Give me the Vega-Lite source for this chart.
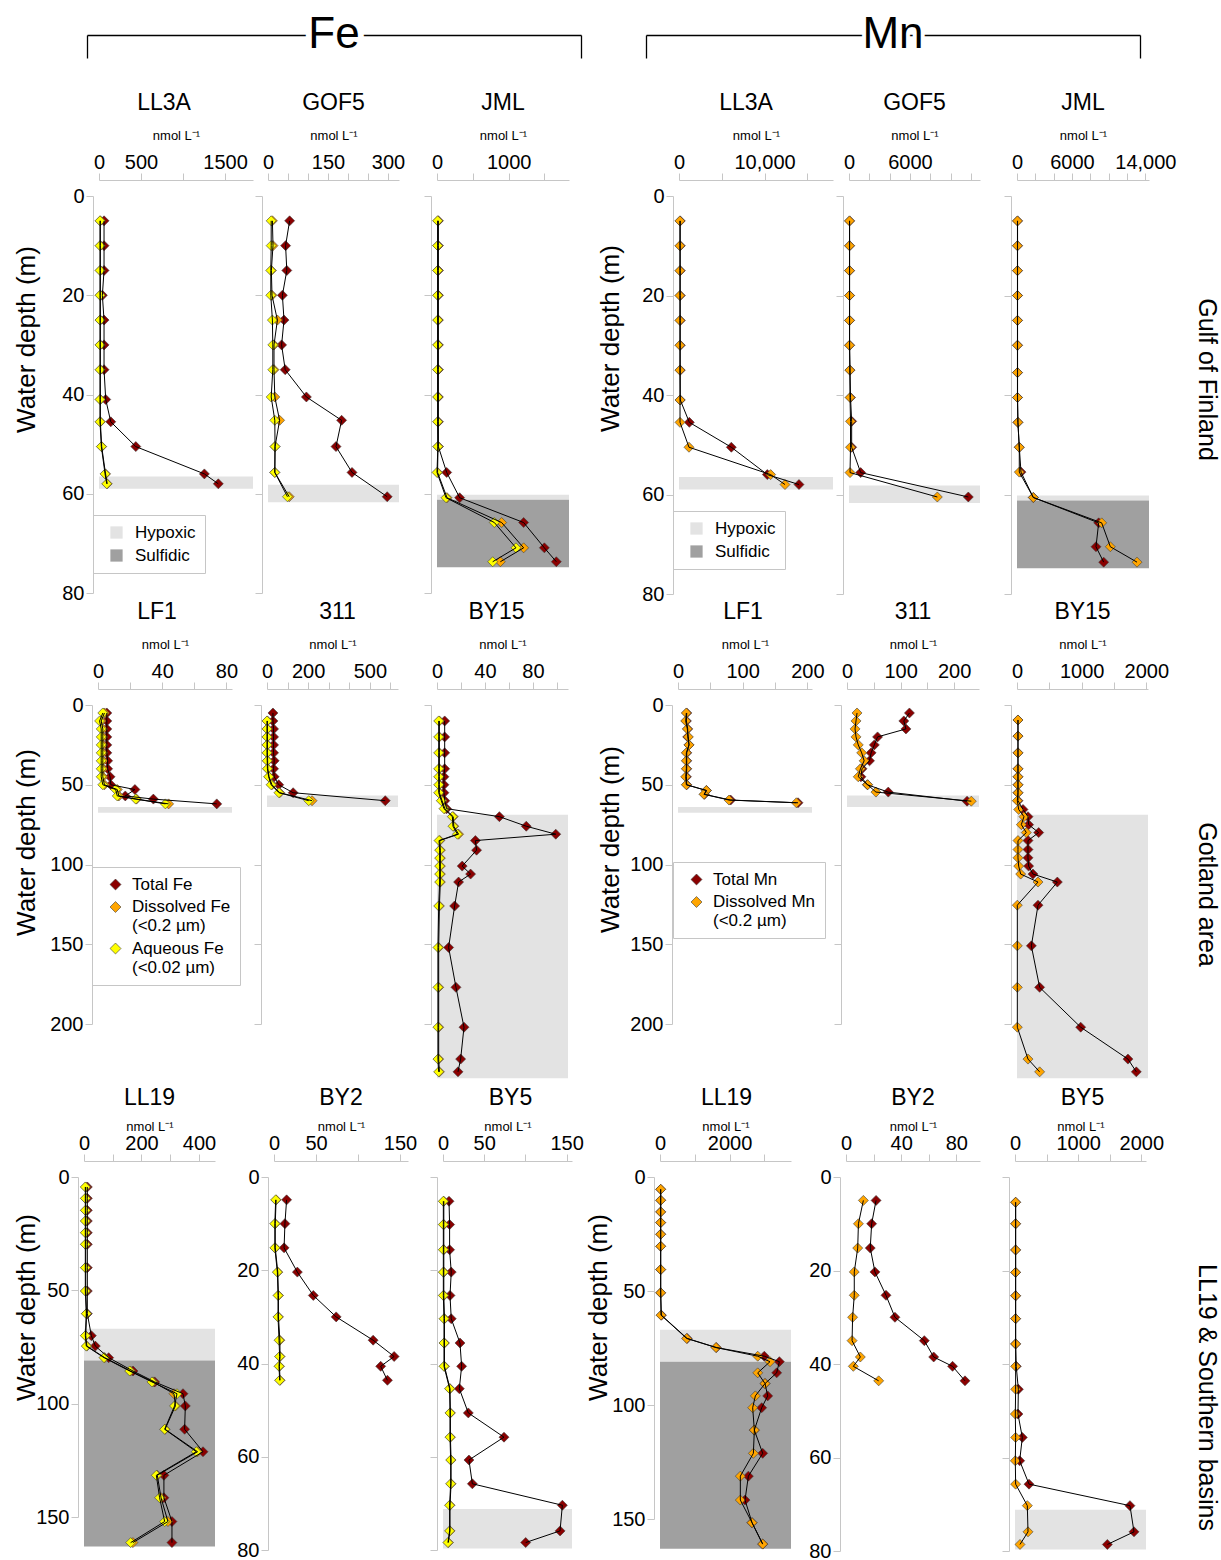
{
"$schema":"https://vega.github.io/schema/vega-lite/v6.json",
"padding":{"left":12,"top":12,"right":5,"bottom":5},
"config":{
 "font":"Liberation Sans",
 "view":{"stroke":null},
 "title":{"fontSize":23,"fontWeight":"normal","frame":"group","anchor":"middle","offset":14,"color":"black","font":"Liberation Sans"},
 "axis":{"grid":false,"domainColor":"#c6c6c6","tickColor":"#c6c6c6","tickSize":7,"labelFontSize":20,"labelColor":"black","titleColor":"black","titleFontWeight":"normal","labelFlush":false,"labelOverlap":false,"labelFont":"Liberation Sans","titleFont":"Liberation Sans"},
 "axisX":{"offset":16,"labelPadding":1,"titleFontSize":13,"titlePadding":10},
 "axisY":{"offset":6,"labelPadding":2,"titleFontSize":26},
 "legend":{"labelFontSize":17,"labelColor":"black","padding":9,"strokeColor":"#c6c6c6","labelFont":"Liberation Sans"}
},
"datasets":{
"zones":[
{"st":"LL3A","zone":"Hypoxic","top":56.5,"bottom":59},
{"st":"GOF5","zone":"Hypoxic","top":58.2,"bottom":61.7},
{"st":"JML","zone":"Hypoxic","top":60.2,"bottom":61.2},
{"st":"JML","zone":"Sulfidic","top":61.2,"bottom":74.8},
{"st":"LF1","zone":"Hypoxic","top":64,"bottom":67.5},
{"st":"311","zone":"Hypoxic","top":56.8,"bottom":64},
{"st":"BY15","zone":"Hypoxic","top":68.8,"bottom":234},
{"st":"LL19","zone":"Hypoxic","top":67,"bottom":81},
{"st":"LL19","zone":"Sulfidic","top":81,"bottom":163},
{"st":"BY5","zone":"Hypoxic","top":71.2,"bottom":79.7}
],
"obs":[
{"p":"FeLL3A","s":"T","d":5,"v":60},{"p":"FeLL3A","s":"T","d":10,"v":60},{"p":"FeLL3A","s":"T","d":15,"v":60},{"p":"FeLL3A","s":"T","d":20,"v":40},{"p":"FeLL3A","s":"T","d":25,"v":60},{"p":"FeLL3A","s":"T","d":30,"v":60},{"p":"FeLL3A","s":"T","d":35,"v":60},{"p":"FeLL3A","s":"T","d":41,"v":80},{"p":"FeLL3A","s":"T","d":45.5,"v":140},{"p":"FeLL3A","s":"T","d":50.5,"v":438},{"p":"FeLL3A","s":"T","d":56,"v":1254},{"p":"FeLL3A","s":"T","d":58,"v":1420},
{"p":"FeLL3A","s":"D","d":5,"v":16},{"p":"FeLL3A","s":"D","d":10,"v":16},{"p":"FeLL3A","s":"D","d":15,"v":16},{"p":"FeLL3A","s":"D","d":20,"v":16},{"p":"FeLL3A","s":"D","d":25,"v":16},{"p":"FeLL3A","s":"D","d":30,"v":16},{"p":"FeLL3A","s":"D","d":35,"v":16},{"p":"FeLL3A","s":"D","d":41,"v":16},{"p":"FeLL3A","s":"D","d":45.5,"v":16},{"p":"FeLL3A","s":"D","d":50.5,"v":32},{"p":"FeLL3A","s":"D","d":56,"v":78},{"p":"FeLL3A","s":"D","d":58,"v":98},
{"p":"FeLL3A","s":"A","d":5,"v":12},{"p":"FeLL3A","s":"A","d":10,"v":12},{"p":"FeLL3A","s":"A","d":15,"v":12},{"p":"FeLL3A","s":"A","d":20,"v":12},{"p":"FeLL3A","s":"A","d":25,"v":12},{"p":"FeLL3A","s":"A","d":30,"v":12},{"p":"FeLL3A","s":"A","d":35,"v":12},{"p":"FeLL3A","s":"A","d":41,"v":12},{"p":"FeLL3A","s":"A","d":45.5,"v":12},{"p":"FeLL3A","s":"A","d":50.5,"v":28},{"p":"FeLL3A","s":"A","d":56,"v":72},{"p":"FeLL3A","s":"A","d":58,"v":92},
{"p":"FeGOF5","s":"T","d":5,"v":54},{"p":"FeGOF5","s":"T","d":10,"v":44},{"p":"FeGOF5","s":"T","d":15,"v":47},{"p":"FeGOF5","s":"T","d":20,"v":36},{"p":"FeGOF5","s":"T","d":25,"v":40},{"p":"FeGOF5","s":"T","d":30,"v":34},{"p":"FeGOF5","s":"T","d":35,"v":43},{"p":"FeGOF5","s":"T","d":40.5,"v":96},{"p":"FeGOF5","s":"T","d":45.2,"v":184},{"p":"FeGOF5","s":"T","d":50.5,"v":170},{"p":"FeGOF5","s":"T","d":55.7,"v":210},{"p":"FeGOF5","s":"T","d":60.6,"v":298},
{"p":"FeGOF5","s":"D","d":5,"v":11},{"p":"FeGOF5","s":"D","d":10,"v":12.5},{"p":"FeGOF5","s":"D","d":15,"v":8.4},{"p":"FeGOF5","s":"D","d":20,"v":10},{"p":"FeGOF5","s":"D","d":25,"v":23.5},{"p":"FeGOF5","s":"D","d":30,"v":15},{"p":"FeGOF5","s":"D","d":35,"v":15},{"p":"FeGOF5","s":"D","d":40.5,"v":17},{"p":"FeGOF5","s":"D","d":45.2,"v":29},{"p":"FeGOF5","s":"D","d":50.5,"v":17.6},{"p":"FeGOF5","s":"D","d":55.7,"v":17},{"p":"FeGOF5","s":"D","d":60.6,"v":53},
{"p":"FeGOF5","s":"A","d":5,"v":8},{"p":"FeGOF5","s":"A","d":10,"v":8},{"p":"FeGOF5","s":"A","d":15,"v":7},{"p":"FeGOF5","s":"A","d":20,"v":7},{"p":"FeGOF5","s":"A","d":25,"v":11},{"p":"FeGOF5","s":"A","d":30,"v":12},{"p":"FeGOF5","s":"A","d":35,"v":12},{"p":"FeGOF5","s":"A","d":40.5,"v":8},{"p":"FeGOF5","s":"A","d":45.2,"v":17},{"p":"FeGOF5","s":"A","d":50.5,"v":17.6},{"p":"FeGOF5","s":"A","d":55.7,"v":17},{"p":"FeGOF5","s":"A","d":60.6,"v":48.6},
{"p":"FeJML","s":"T","d":5,"v":19},{"p":"FeJML","s":"T","d":10,"v":19},{"p":"FeJML","s":"T","d":15,"v":19},{"p":"FeJML","s":"T","d":20,"v":19},{"p":"FeJML","s":"T","d":25,"v":19},{"p":"FeJML","s":"T","d":30,"v":19},{"p":"FeJML","s":"T","d":35,"v":19},{"p":"FeJML","s":"T","d":40.5,"v":19},{"p":"FeJML","s":"T","d":45.5,"v":19},{"p":"FeJML","s":"T","d":50.5,"v":19},{"p":"FeJML","s":"T","d":55.7,"v":135},{"p":"FeJML","s":"T","d":60.8,"v":316},{"p":"FeJML","s":"T","d":65.8,"v":1209},{"p":"FeJML","s":"T","d":70.9,"v":1498},{"p":"FeJML","s":"T","d":73.7,"v":1665},
{"p":"FeJML","s":"D","d":5,"v":12},{"p":"FeJML","s":"D","d":10,"v":12},{"p":"FeJML","s":"D","d":15,"v":12},{"p":"FeJML","s":"D","d":20,"v":12},{"p":"FeJML","s":"D","d":25,"v":12},{"p":"FeJML","s":"D","d":30,"v":12},{"p":"FeJML","s":"D","d":35,"v":12},{"p":"FeJML","s":"D","d":40.5,"v":12},{"p":"FeJML","s":"D","d":45.5,"v":12},{"p":"FeJML","s":"D","d":50.5,"v":14},{"p":"FeJML","s":"D","d":55.7,"v":8},{"p":"FeJML","s":"D","d":60.8,"v":140},{"p":"FeJML","s":"D","d":65.8,"v":902},{"p":"FeJML","s":"D","d":70.9,"v":1209},{"p":"FeJML","s":"D","d":73.7,"v":884},
{"p":"FeJML","s":"A","d":5,"v":9},{"p":"FeJML","s":"A","d":10,"v":9},{"p":"FeJML","s":"A","d":15,"v":9},{"p":"FeJML","s":"A","d":20,"v":9},{"p":"FeJML","s":"A","d":25,"v":9},{"p":"FeJML","s":"A","d":30,"v":9},{"p":"FeJML","s":"A","d":35,"v":9},{"p":"FeJML","s":"A","d":40.5,"v":9},{"p":"FeJML","s":"A","d":45.5,"v":9},{"p":"FeJML","s":"A","d":50.5,"v":12},{"p":"FeJML","s":"A","d":55.7,"v":0},{"p":"FeJML","s":"A","d":60.8,"v":126},{"p":"FeJML","s":"A","d":65.8,"v":800},{"p":"FeJML","s":"A","d":70.9,"v":1102},{"p":"FeJML","s":"A","d":73.7,"v":777},
{"p":"MnLL3A","s":"T","d":5,"v":150},{"p":"MnLL3A","s":"T","d":10,"v":150},{"p":"MnLL3A","s":"T","d":15,"v":150},{"p":"MnLL3A","s":"T","d":20,"v":150},{"p":"MnLL3A","s":"T","d":25,"v":150},{"p":"MnLL3A","s":"T","d":30,"v":150},{"p":"MnLL3A","s":"T","d":35,"v":150},{"p":"MnLL3A","s":"T","d":41,"v":150},{"p":"MnLL3A","s":"T","d":45.5,"v":1208},{"p":"MnLL3A","s":"T","d":50.5,"v":6116},{"p":"MnLL3A","s":"T","d":56,"v":10323},{"p":"MnLL3A","s":"T","d":58,"v":14024},
{"p":"MnLL3A","s":"D","d":5,"v":100},{"p":"MnLL3A","s":"D","d":10,"v":100},{"p":"MnLL3A","s":"D","d":15,"v":100},{"p":"MnLL3A","s":"D","d":20,"v":100},{"p":"MnLL3A","s":"D","d":25,"v":100},{"p":"MnLL3A","s":"D","d":30,"v":100},{"p":"MnLL3A","s":"D","d":35,"v":100},{"p":"MnLL3A","s":"D","d":41,"v":120},{"p":"MnLL3A","s":"D","d":45.5,"v":120},{"p":"MnLL3A","s":"D","d":50.5,"v":1166},{"p":"MnLL3A","s":"D","d":56,"v":10713},{"p":"MnLL3A","s":"D","d":58,"v":12388},
{"p":"MnGOF5","s":"T","d":5,"v":60},{"p":"MnGOF5","s":"T","d":10,"v":60},{"p":"MnGOF5","s":"T","d":15,"v":60},{"p":"MnGOF5","s":"T","d":20,"v":60},{"p":"MnGOF5","s":"T","d":25,"v":60},{"p":"MnGOF5","s":"T","d":30,"v":60},{"p":"MnGOF5","s":"T","d":35,"v":100},{"p":"MnGOF5","s":"T","d":40.5,"v":150},{"p":"MnGOF5","s":"T","d":45.3,"v":262},{"p":"MnGOF5","s":"T","d":50.5,"v":262},{"p":"MnGOF5","s":"T","d":55.6,"v":1148},{"p":"MnGOF5","s":"T","d":60.5,"v":11738},
{"p":"MnGOF5","s":"D","d":5,"v":50},{"p":"MnGOF5","s":"D","d":10,"v":50},{"p":"MnGOF5","s":"D","d":15,"v":50},{"p":"MnGOF5","s":"D","d":20,"v":50},{"p":"MnGOF5","s":"D","d":25,"v":50},{"p":"MnGOF5","s":"D","d":30,"v":50},{"p":"MnGOF5","s":"D","d":35,"v":80},{"p":"MnGOF5","s":"D","d":40.5,"v":100},{"p":"MnGOF5","s":"D","d":45.3,"v":150},{"p":"MnGOF5","s":"D","d":50.5,"v":150},{"p":"MnGOF5","s":"D","d":55.6,"v":100},{"p":"MnGOF5","s":"D","d":60.5,"v":8689},
{"p":"MnJML","s":"T","d":5,"v":60},{"p":"MnJML","s":"T","d":10,"v":60},{"p":"MnJML","s":"T","d":15,"v":60},{"p":"MnJML","s":"T","d":20,"v":60},{"p":"MnJML","s":"T","d":25,"v":60},{"p":"MnJML","s":"T","d":30,"v":60},{"p":"MnJML","s":"T","d":35.5,"v":60},{"p":"MnJML","s":"T","d":40.5,"v":60},{"p":"MnJML","s":"T","d":45.5,"v":100},{"p":"MnJML","s":"T","d":50.5,"v":250},{"p":"MnJML","s":"T","d":55.5,"v":436},{"p":"MnJML","s":"T","d":60.6,"v":1780},{"p":"MnJML","s":"T","d":65.7,"v":8909},{"p":"MnJML","s":"T","d":70.5,"v":8618},{"p":"MnJML","s":"T","d":73.6,"v":9455},
{"p":"MnJML","s":"D","d":5,"v":50},{"p":"MnJML","s":"D","d":10,"v":50},{"p":"MnJML","s":"D","d":15,"v":50},{"p":"MnJML","s":"D","d":20,"v":50},{"p":"MnJML","s":"D","d":25,"v":50},{"p":"MnJML","s":"D","d":30,"v":50},{"p":"MnJML","s":"D","d":35.5,"v":50},{"p":"MnJML","s":"D","d":40.5,"v":50},{"p":"MnJML","s":"D","d":45.5,"v":100},{"p":"MnJML","s":"D","d":50.5,"v":250},{"p":"MnJML","s":"D","d":55.5,"v":250},{"p":"MnJML","s":"D","d":60.6,"v":1780},{"p":"MnJML","s":"D","d":65.7,"v":9236},{"p":"MnJML","s":"D","d":70.5,"v":10182},{"p":"MnJML","s":"D","d":73.6,"v":13091},
{"p":"FeLF1","s":"T","d":5,"v":5.5},{"p":"FeLF1","s":"T","d":10,"v":5.5},{"p":"FeLF1","s":"T","d":15,"v":5.5},{"p":"FeLF1","s":"T","d":20,"v":5.5},{"p":"FeLF1","s":"T","d":25,"v":5.5},{"p":"FeLF1","s":"T","d":30,"v":5.5},{"p":"FeLF1","s":"T","d":35,"v":6},{"p":"FeLF1","s":"T","d":40,"v":6},{"p":"FeLF1","s":"T","d":45,"v":7.5},{"p":"FeLF1","s":"T","d":50,"v":8},{"p":"FeLF1","s":"T","d":53,"v":23},{"p":"FeLF1","s":"T","d":57,"v":17},{"p":"FeLF1","s":"T","d":59,"v":34.5},{"p":"FeLF1","s":"T","d":62,"v":74},
{"p":"FeLF1","s":"D","d":5,"v":4},{"p":"FeLF1","s":"D","d":10,"v":2},{"p":"FeLF1","s":"D","d":15,"v":3},{"p":"FeLF1","s":"D","d":20,"v":3},{"p":"FeLF1","s":"D","d":25,"v":3},{"p":"FeLF1","s":"D","d":30,"v":3},{"p":"FeLF1","s":"D","d":35,"v":3},{"p":"FeLF1","s":"D","d":40,"v":3},{"p":"FeLF1","s":"D","d":45,"v":3},{"p":"FeLF1","s":"D","d":50,"v":4},{"p":"FeLF1","s":"D","d":53,"v":12},{"p":"FeLF1","s":"D","d":57,"v":13},{"p":"FeLF1","s":"D","d":59,"v":24},{"p":"FeLF1","s":"D","d":62,"v":44},
{"p":"FeLF1","s":"A","d":5,"v":3},{"p":"FeLF1","s":"A","d":10,"v":1},{"p":"FeLF1","s":"A","d":15,"v":2},{"p":"FeLF1","s":"A","d":20,"v":2},{"p":"FeLF1","s":"A","d":25,"v":2},{"p":"FeLF1","s":"A","d":30,"v":2},{"p":"FeLF1","s":"A","d":35,"v":2},{"p":"FeLF1","s":"A","d":40,"v":2},{"p":"FeLF1","s":"A","d":45,"v":2},{"p":"FeLF1","s":"A","d":50,"v":3},{"p":"FeLF1","s":"A","d":53,"v":11},{"p":"FeLF1","s":"A","d":57,"v":12},{"p":"FeLF1","s":"A","d":59,"v":23.5},{"p":"FeLF1","s":"A","d":62,"v":42},
{"p":"Fe311","s":"T","d":5,"v":29},{"p":"Fe311","s":"T","d":10,"v":29},{"p":"Fe311","s":"T","d":15,"v":32},{"p":"Fe311","s":"T","d":20,"v":32},{"p":"Fe311","s":"T","d":25,"v":32},{"p":"Fe311","s":"T","d":30,"v":32},{"p":"Fe311","s":"T","d":35,"v":35},{"p":"Fe311","s":"T","d":40,"v":32},{"p":"Fe311","s":"T","d":45,"v":35},{"p":"Fe311","s":"T","d":50,"v":57},{"p":"Fe311","s":"T","d":55,"v":127},{"p":"Fe311","s":"T","d":60,"v":575},
{"p":"Fe311","s":"D","d":10,"v":2},{"p":"Fe311","s":"D","d":15,"v":2},{"p":"Fe311","s":"D","d":20,"v":2},{"p":"Fe311","s":"D","d":25,"v":2},{"p":"Fe311","s":"D","d":30,"v":2},{"p":"Fe311","s":"D","d":35,"v":3},{"p":"Fe311","s":"D","d":40,"v":4},{"p":"Fe311","s":"D","d":45,"v":10},{"p":"Fe311","s":"D","d":50,"v":24},{"p":"Fe311","s":"D","d":55,"v":62},{"p":"Fe311","s":"D","d":60,"v":219},
{"p":"Fe311","s":"A","d":10,"v":0},{"p":"Fe311","s":"A","d":15,"v":0},{"p":"Fe311","s":"A","d":20,"v":0},{"p":"Fe311","s":"A","d":25,"v":0},{"p":"Fe311","s":"A","d":30,"v":0},{"p":"Fe311","s":"A","d":35,"v":1},{"p":"Fe311","s":"A","d":40,"v":2},{"p":"Fe311","s":"A","d":45,"v":8},{"p":"Fe311","s":"A","d":50,"v":20},{"p":"Fe311","s":"A","d":55,"v":58},{"p":"Fe311","s":"A","d":60,"v":203},
{"p":"FeBY15","s":"T","d":10,"v":6.4},{"p":"FeBY15","s":"T","d":20,"v":6.4},{"p":"FeBY15","s":"T","d":30,"v":6.4},{"p":"FeBY15","s":"T","d":40,"v":6.4},{"p":"FeBY15","s":"T","d":45,"v":5.8},{"p":"FeBY15","s":"T","d":50,"v":5.8},{"p":"FeBY15","s":"T","d":55,"v":5.8},{"p":"FeBY15","s":"T","d":60,"v":6.5},{"p":"FeBY15","s":"T","d":65,"v":8},{"p":"FeBY15","s":"T","d":70,"v":52},{"p":"FeBY15","s":"T","d":76,"v":74.4},{"p":"FeBY15","s":"T","d":81,"v":99},{"p":"FeBY15","s":"T","d":85,"v":32},{"p":"FeBY15","s":"T","d":91,"v":33},{"p":"FeBY15","s":"T","d":101,"v":21},{"p":"FeBY15","s":"T","d":106,"v":28},{"p":"FeBY15","s":"T","d":111,"v":18},{"p":"FeBY15","s":"T","d":126,"v":14.7},{"p":"FeBY15","s":"T","d":152,"v":9.7},{"p":"FeBY15","s":"T","d":177,"v":15.8},{"p":"FeBY15","s":"T","d":202,"v":22.5},{"p":"FeBY15","s":"T","d":222,"v":19.7},{"p":"FeBY15","s":"T","d":230,"v":17.5},
{"p":"FeBY15","s":"D","d":10,"v":2},{"p":"FeBY15","s":"D","d":20,"v":2},{"p":"FeBY15","s":"D","d":30,"v":2},{"p":"FeBY15","s":"D","d":40,"v":2},{"p":"FeBY15","s":"D","d":45,"v":2},{"p":"FeBY15","s":"D","d":50,"v":2},{"p":"FeBY15","s":"D","d":55,"v":2},{"p":"FeBY15","s":"D","d":60,"v":4.2},{"p":"FeBY15","s":"D","d":65,"v":6.5},{"p":"FeBY15","s":"D","d":70,"v":13.5},{"p":"FeBY15","s":"D","d":76,"v":14},{"p":"FeBY15","s":"D","d":81,"v":18},{"p":"FeBY15","s":"D","d":85,"v":2.3},{"p":"FeBY15","s":"D","d":91,"v":2.8},{"p":"FeBY15","s":"D","d":96,"v":2.8},{"p":"FeBY15","s":"D","d":101,"v":2.8},{"p":"FeBY15","s":"D","d":106,"v":2.8},{"p":"FeBY15","s":"D","d":111,"v":2.8},{"p":"FeBY15","s":"D","d":126,"v":2},{"p":"FeBY15","s":"D","d":152,"v":1.4},{"p":"FeBY15","s":"D","d":177,"v":1.4},{"p":"FeBY15","s":"D","d":202,"v":1.4},{"p":"FeBY15","s":"D","d":222,"v":1.4},{"p":"FeBY15","s":"D","d":230,"v":2},
{"p":"FeBY15","s":"A","d":10,"v":1.4},{"p":"FeBY15","s":"A","d":20,"v":1.4},{"p":"FeBY15","s":"A","d":30,"v":1.4},{"p":"FeBY15","s":"A","d":40,"v":1.4},{"p":"FeBY15","s":"A","d":45,"v":1.4},{"p":"FeBY15","s":"A","d":50,"v":1.4},{"p":"FeBY15","s":"A","d":55,"v":1.4},{"p":"FeBY15","s":"A","d":60,"v":3.6},{"p":"FeBY15","s":"A","d":65,"v":5.8},{"p":"FeBY15","s":"A","d":70,"v":12.8},{"p":"FeBY15","s":"A","d":76,"v":13.3},{"p":"FeBY15","s":"A","d":81,"v":17},{"p":"FeBY15","s":"A","d":85,"v":1.7},{"p":"FeBY15","s":"A","d":91,"v":2.2},{"p":"FeBY15","s":"A","d":96,"v":2.2},{"p":"FeBY15","s":"A","d":101,"v":2.2},{"p":"FeBY15","s":"A","d":106,"v":2.2},{"p":"FeBY15","s":"A","d":111,"v":2.2},{"p":"FeBY15","s":"A","d":126,"v":1.4},{"p":"FeBY15","s":"A","d":152,"v":0.8},{"p":"FeBY15","s":"A","d":177,"v":0.8},{"p":"FeBY15","s":"A","d":202,"v":0.8},{"p":"FeBY15","s":"A","d":222,"v":0.8},{"p":"FeBY15","s":"A","d":230,"v":1.4},
{"p":"MnLF1","s":"T","d":5,"v":13.5},{"p":"MnLF1","s":"T","d":10,"v":13},{"p":"MnLF1","s":"T","d":15,"v":15},{"p":"MnLF1","s":"T","d":20,"v":15},{"p":"MnLF1","s":"T","d":25,"v":17},{"p":"MnLF1","s":"T","d":30,"v":13.5},{"p":"MnLF1","s":"T","d":35,"v":13.5},{"p":"MnLF1","s":"T","d":40,"v":13.5},{"p":"MnLF1","s":"T","d":45,"v":13},{"p":"MnLF1","s":"T","d":50,"v":13.5},{"p":"MnLF1","s":"T","d":53.6,"v":44},{"p":"MnLF1","s":"T","d":56,"v":41},{"p":"MnLF1","s":"T","d":59.6,"v":81.4},{"p":"MnLF1","s":"T","d":61.3,"v":185.6},
{"p":"MnLF1","s":"D","d":5,"v":12.9},{"p":"MnLF1","s":"D","d":10,"v":11.9},{"p":"MnLF1","s":"D","d":15,"v":14.4},{"p":"MnLF1","s":"D","d":20,"v":16},{"p":"MnLF1","s":"D","d":25,"v":17},{"p":"MnLF1","s":"D","d":30,"v":12.9},{"p":"MnLF1","s":"D","d":35,"v":12.9},{"p":"MnLF1","s":"D","d":40,"v":12.9},{"p":"MnLF1","s":"D","d":45,"v":11.9},{"p":"MnLF1","s":"D","d":50,"v":12.9},{"p":"MnLF1","s":"D","d":53.6,"v":43.8},{"p":"MnLF1","s":"D","d":56,"v":40.2},{"p":"MnLF1","s":"D","d":59.6,"v":78.9},{"p":"MnLF1","s":"D","d":61.3,"v":183},
{"p":"Mn311","s":"T","d":5,"v":116.5},{"p":"Mn311","s":"T","d":10,"v":106},{"p":"Mn311","s":"T","d":15,"v":110},{"p":"Mn311","s":"T","d":20,"v":57},{"p":"Mn311","s":"T","d":25,"v":51},{"p":"Mn311","s":"T","d":30,"v":45},{"p":"Mn311","s":"T","d":35,"v":42},{"p":"Mn311","s":"T","d":40,"v":28},{"p":"Mn311","s":"T","d":45,"v":26},{"p":"Mn311","s":"T","d":50,"v":38},{"p":"Mn311","s":"T","d":54.6,"v":77},{"p":"Mn311","s":"T","d":60.3,"v":224},
{"p":"Mn311","s":"D","d":5,"v":18.7},{"p":"Mn311","s":"D","d":10,"v":16.8},{"p":"Mn311","s":"D","d":15,"v":15},{"p":"Mn311","s":"D","d":20,"v":16.8},{"p":"Mn311","s":"D","d":25,"v":21},{"p":"Mn311","s":"D","d":30,"v":27.4},{"p":"Mn311","s":"D","d":35,"v":32},{"p":"Mn311","s":"D","d":40,"v":25},{"p":"Mn311","s":"D","d":45,"v":21},{"p":"Mn311","s":"D","d":50,"v":38.6},{"p":"Mn311","s":"D","d":54.6,"v":54},{"p":"Mn311","s":"D","d":60.3,"v":232},
{"p":"MnBY15","s":"T","d":9.4,"v":15},{"p":"MnBY15","s":"T","d":19.5,"v":15},{"p":"MnBY15","s":"T","d":30,"v":15},{"p":"MnBY15","s":"T","d":40,"v":15},{"p":"MnBY15","s":"T","d":45,"v":15},{"p":"MnBY15","s":"T","d":50,"v":15},{"p":"MnBY15","s":"T","d":55,"v":15},{"p":"MnBY15","s":"T","d":60,"v":15},{"p":"MnBY15","s":"T","d":65.5,"v":93},{"p":"MnBY15","s":"T","d":70,"v":170},{"p":"MnBY15","s":"T","d":75,"v":180},{"p":"MnBY15","s":"T","d":80,"v":335},{"p":"MnBY15","s":"T","d":85,"v":170},{"p":"MnBY15","s":"T","d":90.6,"v":170},{"p":"MnBY15","s":"T","d":95.8,"v":170},{"p":"MnBY15","s":"T","d":101,"v":180},{"p":"MnBY15","s":"T","d":106,"v":247},{"p":"MnBY15","s":"T","d":111,"v":624},{"p":"MnBY15","s":"T","d":125.5,"v":325},{"p":"MnBY15","s":"T","d":151,"v":222},{"p":"MnBY15","s":"T","d":177,"v":350},{"p":"MnBY15","s":"T","d":202,"v":985},{"p":"MnBY15","s":"T","d":222,"v":1716},{"p":"MnBY15","s":"T","d":230,"v":1845},
{"p":"MnBY15","s":"D","d":9.4,"v":15},{"p":"MnBY15","s":"D","d":19.5,"v":15},{"p":"MnBY15","s":"D","d":30,"v":15},{"p":"MnBY15","s":"D","d":40,"v":15},{"p":"MnBY15","s":"D","d":45,"v":15},{"p":"MnBY15","s":"D","d":50,"v":15},{"p":"MnBY15","s":"D","d":55,"v":15},{"p":"MnBY15","s":"D","d":60,"v":5},{"p":"MnBY15","s":"D","d":65.5,"v":26},{"p":"MnBY15","s":"D","d":70,"v":108},{"p":"MnBY15","s":"D","d":75,"v":67},{"p":"MnBY15","s":"D","d":80,"v":144},{"p":"MnBY15","s":"D","d":85,"v":15},{"p":"MnBY15","s":"D","d":90.6,"v":15},{"p":"MnBY15","s":"D","d":95.8,"v":15},{"p":"MnBY15","s":"D","d":101,"v":26},{"p":"MnBY15","s":"D","d":106,"v":57},{"p":"MnBY15","s":"D","d":111,"v":325},{"p":"MnBY15","s":"D","d":125.5,"v":5},{"p":"MnBY15","s":"D","d":151,"v":5},{"p":"MnBY15","s":"D","d":177,"v":5},{"p":"MnBY15","s":"D","d":202,"v":5},{"p":"MnBY15","s":"D","d":222,"v":170},{"p":"MnBY15","s":"D","d":230,"v":350},
{"p":"FeLL19","s":"T","d":4.4,"v":11.6},{"p":"FeLL19","s":"T","d":9.4,"v":11.6},{"p":"FeLL19","s":"T","d":14.7,"v":11.6},{"p":"FeLL19","s":"T","d":19.4,"v":11.6},{"p":"FeLL19","s":"T","d":24.6,"v":11.6},{"p":"FeLL19","s":"T","d":29.7,"v":11.6},{"p":"FeLL19","s":"T","d":40,"v":11.6},{"p":"FeLL19","s":"T","d":50.3,"v":11.6},{"p":"FeLL19","s":"T","d":60.3,"v":11.6},{"p":"FeLL19","s":"T","d":70,"v":25.5},{"p":"FeLL19","s":"T","d":74.6,"v":39.4},{"p":"FeLL19","s":"T","d":79.7,"v":85.8},{"p":"FeLL19","s":"T","d":85.6,"v":170.4},{"p":"FeLL19","s":"T","d":90.4,"v":245.8},{"p":"FeLL19","s":"T","d":95.6,"v":344.3},{"p":"FeLL19","s":"T","d":101,"v":352.5},{"p":"FeLL19","s":"T","d":111.3,"v":350},{"p":"FeLL19","s":"T","d":121.2,"v":414},{"p":"FeLL19","s":"T","d":131.6,"v":278},{"p":"FeLL19","s":"T","d":141.5,"v":278},{"p":"FeLL19","s":"T","d":152,"v":306},{"p":"FeLL19","s":"T","d":161.3,"v":306},
{"p":"FeLL19","s":"D","d":4.4,"v":6},{"p":"FeLL19","s":"D","d":9.4,"v":6},{"p":"FeLL19","s":"D","d":14.7,"v":6},{"p":"FeLL19","s":"D","d":19.4,"v":6},{"p":"FeLL19","s":"D","d":24.6,"v":6},{"p":"FeLL19","s":"D","d":29.7,"v":6},{"p":"FeLL19","s":"D","d":40,"v":6},{"p":"FeLL19","s":"D","d":50.3,"v":6},{"p":"FeLL19","s":"D","d":60.3,"v":9},{"p":"FeLL19","s":"D","d":70,"v":6},{"p":"FeLL19","s":"D","d":74.6,"v":10},{"p":"FeLL19","s":"D","d":79.7,"v":72},{"p":"FeLL19","s":"D","d":85.6,"v":162},{"p":"FeLL19","s":"D","d":90.4,"v":240},{"p":"FeLL19","s":"D","d":95.6,"v":313},{"p":"FeLL19","s":"D","d":101,"v":318},{"p":"FeLL19","s":"D","d":111.3,"v":282},{"p":"FeLL19","s":"D","d":121.2,"v":395},{"p":"FeLL19","s":"D","d":131.6,"v":255},{"p":"FeLL19","s":"D","d":141.5,"v":268},{"p":"FeLL19","s":"D","d":152,"v":292},{"p":"FeLL19","s":"D","d":161.3,"v":170},
{"p":"FeLL19","s":"A","d":4.4,"v":4.6},{"p":"FeLL19","s":"A","d":9.4,"v":4.6},{"p":"FeLL19","s":"A","d":14.7,"v":4.6},{"p":"FeLL19","s":"A","d":19.4,"v":4.6},{"p":"FeLL19","s":"A","d":24.6,"v":4.6},{"p":"FeLL19","s":"A","d":29.7,"v":4.6},{"p":"FeLL19","s":"A","d":40,"v":4.6},{"p":"FeLL19","s":"A","d":50.3,"v":4.6},{"p":"FeLL19","s":"A","d":60.3,"v":8},{"p":"FeLL19","s":"A","d":70,"v":4.6},{"p":"FeLL19","s":"A","d":74.6,"v":8},{"p":"FeLL19","s":"A","d":79.7,"v":69.6},{"p":"FeLL19","s":"A","d":85.6,"v":159},{"p":"FeLL19","s":"A","d":90.4,"v":236.5},{"p":"FeLL19","s":"A","d":95.6,"v":323.5},{"p":"FeLL19","s":"A","d":101,"v":315},{"p":"FeLL19","s":"A","d":111.3,"v":280.6},{"p":"FeLL19","s":"A","d":121.2,"v":390.7},{"p":"FeLL19","s":"A","d":131.6,"v":251.6},{"p":"FeLL19","s":"A","d":141.5,"v":263},{"p":"FeLL19","s":"A","d":152,"v":280.6},{"p":"FeLL19","s":"A","d":161.3,"v":162.3},
{"p":"FeBY2","s":"T","d":4.9,"v":15},{"p":"FeBY2","s":"T","d":10,"v":13},{"p":"FeBY2","s":"T","d":15.2,"v":12},{"p":"FeBY2","s":"T","d":20.4,"v":27.8},{"p":"FeBY2","s":"T","d":25.4,"v":46.8},{"p":"FeBY2","s":"T","d":30,"v":74},{"p":"FeBY2","s":"T","d":35,"v":118},{"p":"FeBY2","s":"T","d":38.5,"v":143},{"p":"FeBY2","s":"T","d":40.6,"v":127},{"p":"FeBY2","s":"T","d":43.6,"v":135},
{"p":"FeBY2","s":"D","d":4.9,"v":2.5},{"p":"FeBY2","s":"D","d":10,"v":1.5},{"p":"FeBY2","s":"D","d":15.2,"v":1.5},{"p":"FeBY2","s":"D","d":20.4,"v":4.5},{"p":"FeBY2","s":"D","d":25.4,"v":5.3},{"p":"FeBY2","s":"D","d":30,"v":5.3},{"p":"FeBY2","s":"D","d":35,"v":7},{"p":"FeBY2","s":"D","d":38.5,"v":7.2},{"p":"FeBY2","s":"D","d":40.6,"v":6.5},{"p":"FeBY2","s":"D","d":43.6,"v":7.2},
{"p":"FeBY2","s":"A","d":4.9,"v":2},{"p":"FeBY2","s":"A","d":10,"v":1},{"p":"FeBY2","s":"A","d":15.2,"v":1},{"p":"FeBY2","s":"A","d":20.4,"v":4},{"p":"FeBY2","s":"A","d":25.4,"v":4.8},{"p":"FeBY2","s":"A","d":30,"v":4.8},{"p":"FeBY2","s":"A","d":35,"v":6},{"p":"FeBY2","s":"A","d":38.5,"v":6.7},{"p":"FeBY2","s":"A","d":40.6,"v":6},{"p":"FeBY2","s":"A","d":43.6,"v":6.7},
{"p":"FeBY5","s":"T","d":5.2,"v":7.3},{"p":"FeBY5","s":"T","d":10.2,"v":8},{"p":"FeBY5","s":"T","d":15.6,"v":8},{"p":"FeBY5","s":"T","d":20.4,"v":10},{"p":"FeBY5","s":"T","d":25.4,"v":8.5},{"p":"FeBY5","s":"T","d":30.4,"v":10},{"p":"FeBY5","s":"T","d":35.6,"v":20.6},{"p":"FeBY5","s":"T","d":40.6,"v":22.6},{"p":"FeBY5","s":"T","d":45.4,"v":19.8},{"p":"FeBY5","s":"T","d":50.6,"v":30.7},{"p":"FeBY5","s":"T","d":55.8,"v":74},{"p":"FeBY5","s":"T","d":60.7,"v":31.5},{"p":"FeBY5","s":"T","d":65.8,"v":35.6},{"p":"FeBY5","s":"T","d":70.4,"v":144.8},{"p":"FeBY5","s":"T","d":75.9,"v":142},{"p":"FeBY5","s":"T","d":78.4,"v":100.3},
{"p":"FeBY5","s":"D","d":5.2,"v":1},{"p":"FeBY5","s":"D","d":10.2,"v":1},{"p":"FeBY5","s":"D","d":15.6,"v":1},{"p":"FeBY5","s":"D","d":20.4,"v":1},{"p":"FeBY5","s":"D","d":25.4,"v":1},{"p":"FeBY5","s":"D","d":30.4,"v":1.8},{"p":"FeBY5","s":"D","d":35.6,"v":1.8},{"p":"FeBY5","s":"D","d":40.6,"v":1.8},{"p":"FeBY5","s":"D","d":45.4,"v":8.5},{"p":"FeBY5","s":"D","d":50.6,"v":9},{"p":"FeBY5","s":"D","d":55.8,"v":9},{"p":"FeBY5","s":"D","d":60.7,"v":9.8},{"p":"FeBY5","s":"D","d":65.8,"v":9.8},{"p":"FeBY5","s":"D","d":70.4,"v":8.5},{"p":"FeBY5","s":"D","d":75.9,"v":8.5},{"p":"FeBY5","s":"D","d":78.4,"v":6.5},
{"p":"FeBY5","s":"A","d":5.2,"v":0.4},{"p":"FeBY5","s":"A","d":10.2,"v":0.4},{"p":"FeBY5","s":"A","d":15.6,"v":0.4},{"p":"FeBY5","s":"A","d":20.4,"v":0.4},{"p":"FeBY5","s":"A","d":25.4,"v":0.4},{"p":"FeBY5","s":"A","d":30.4,"v":1.2},{"p":"FeBY5","s":"A","d":35.6,"v":1.2},{"p":"FeBY5","s":"A","d":40.6,"v":1.2},{"p":"FeBY5","s":"A","d":45.4,"v":8},{"p":"FeBY5","s":"A","d":50.6,"v":8.5},{"p":"FeBY5","s":"A","d":55.8,"v":8.5},{"p":"FeBY5","s":"A","d":60.7,"v":9.3},{"p":"FeBY5","s":"A","d":65.8,"v":9.3},{"p":"FeBY5","s":"A","d":70.4,"v":8},{"p":"FeBY5","s":"A","d":75.9,"v":8},{"p":"FeBY5","s":"A","d":78.4,"v":6},
{"p":"MnLL19","s":"T","d":5.4,"v":20},{"p":"MnLL19","s":"T","d":10.2,"v":20},{"p":"MnLL19","s":"T","d":15.3,"v":20},{"p":"MnLL19","s":"T","d":20,"v":20},{"p":"MnLL19","s":"T","d":25.1,"v":20},{"p":"MnLL19","s":"T","d":30.4,"v":20},{"p":"MnLL19","s":"T","d":40.6,"v":20},{"p":"MnLL19","s":"T","d":50.8,"v":20},{"p":"MnLL19","s":"T","d":60.6,"v":40},{"p":"MnLL19","s":"T","d":70.8,"v":780},{"p":"MnLL19","s":"T","d":74.8,"v":1620},{"p":"MnLL19","s":"T","d":78.6,"v":3000},{"p":"MnLL19","s":"T","d":81,"v":3432},{"p":"MnLL19","s":"T","d":85.9,"v":3355},{"p":"MnLL19","s":"T","d":90.6,"v":3020},{"p":"MnLL19","s":"T","d":96,"v":3097},{"p":"MnLL19","s":"T","d":101.2,"v":2924},{"p":"MnLL19","s":"T","d":111,"v":2713},{"p":"MnLL19","s":"T","d":121.2,"v":2953},{"p":"MnLL19","s":"T","d":131.2,"v":2541},{"p":"MnLL19","s":"T","d":141.7,"v":2445},{"p":"MnLL19","s":"T","d":151.6,"v":2646},{"p":"MnLL19","s":"T","d":161,"v":2953},
{"p":"MnLL19","s":"D","d":5.4,"v":20},{"p":"MnLL19","s":"D","d":10.2,"v":20},{"p":"MnLL19","s":"D","d":15.3,"v":20},{"p":"MnLL19","s":"D","d":20,"v":20},{"p":"MnLL19","s":"D","d":25.1,"v":20},{"p":"MnLL19","s":"D","d":30.4,"v":20},{"p":"MnLL19","s":"D","d":40.6,"v":20},{"p":"MnLL19","s":"D","d":50.8,"v":20},{"p":"MnLL19","s":"D","d":60.6,"v":29},{"p":"MnLL19","s":"D","d":70.8,"v":767},{"p":"MnLL19","s":"D","d":74.8,"v":1610},{"p":"MnLL19","s":"D","d":78.6,"v":2810},{"p":"MnLL19","s":"D","d":81,"v":3164},{"p":"MnLL19","s":"D","d":85.9,"v":2810},{"p":"MnLL19","s":"D","d":90.6,"v":3020},{"p":"MnLL19","s":"D","d":96,"v":2742},{"p":"MnLL19","s":"D","d":101.2,"v":2665},{"p":"MnLL19","s":"D","d":111,"v":2713},{"p":"MnLL19","s":"D","d":121.2,"v":2685},{"p":"MnLL19","s":"D","d":131.2,"v":2310},{"p":"MnLL19","s":"D","d":141.7,"v":2310},{"p":"MnLL19","s":"D","d":151.6,"v":2646},{"p":"MnLL19","s":"D","d":161,"v":2953},
{"p":"MnBY2","s":"T","d":5,"v":21.8},{"p":"MnBY2","s":"T","d":10,"v":18.6},{"p":"MnBY2","s":"T","d":15.2,"v":17.6},{"p":"MnBY2","s":"T","d":20.3,"v":21},{"p":"MnBY2","s":"T","d":25.3,"v":29},{"p":"MnBY2","s":"T","d":30,"v":35.5},{"p":"MnBY2","s":"T","d":35,"v":56.8},{"p":"MnBY2","s":"T","d":38.5,"v":63.6},{"p":"MnBY2","s":"T","d":40.5,"v":77.3},{"p":"MnBY2","s":"T","d":43.6,"v":86.3},
{"p":"MnBY2","s":"D","d":5,"v":12.6},{"p":"MnBY2","s":"D","d":10,"v":9},{"p":"MnBY2","s":"D","d":15.2,"v":8.5},{"p":"MnBY2","s":"D","d":20.3,"v":6},{"p":"MnBY2","s":"D","d":25.3,"v":6},{"p":"MnBY2","s":"D","d":30,"v":4.8},{"p":"MnBY2","s":"D","d":35,"v":4.4},{"p":"MnBY2","s":"D","d":38.5,"v":10.4},{"p":"MnBY2","s":"D","d":40.5,"v":5.3},{"p":"MnBY2","s":"D","d":43.6,"v":23.7},
{"p":"MnBY5","s":"T","d":5.4,"v":10},{"p":"MnBY5","s":"T","d":10,"v":10},{"p":"MnBY5","s":"T","d":15.6,"v":10},{"p":"MnBY5","s":"T","d":20.4,"v":10},{"p":"MnBY5","s":"T","d":25.4,"v":10},{"p":"MnBY5","s":"T","d":30.3,"v":10},{"p":"MnBY5","s":"T","d":35.7,"v":10},{"p":"MnBY5","s":"T","d":40.5,"v":20},{"p":"MnBY5","s":"T","d":45.4,"v":53},{"p":"MnBY5","s":"T","d":50.7,"v":47},{"p":"MnBY5","s":"T","d":55.7,"v":116},{"p":"MnBY5","s":"T","d":60.7,"v":74},{"p":"MnBY5","s":"T","d":65.7,"v":222},{"p":"MnBY5","s":"T","d":70.3,"v":1820},{"p":"MnBY5","s":"T","d":75.9,"v":1884},{"p":"MnBY5","s":"T","d":78.6,"v":1462},
{"p":"MnBY5","s":"D","d":5.4,"v":10},{"p":"MnBY5","s":"D","d":10,"v":10},{"p":"MnBY5","s":"D","d":15.6,"v":10},{"p":"MnBY5","s":"D","d":20.4,"v":10},{"p":"MnBY5","s":"D","d":25.4,"v":10},{"p":"MnBY5","s":"D","d":30.3,"v":10},{"p":"MnBY5","s":"D","d":35.7,"v":10},{"p":"MnBY5","s":"D","d":40.5,"v":10},{"p":"MnBY5","s":"D","d":45.4,"v":10},{"p":"MnBY5","s":"D","d":50.7,"v":5},{"p":"MnBY5","s":"D","d":55.7,"v":10},{"p":"MnBY5","s":"D","d":60.7,"v":5},{"p":"MnBY5","s":"D","d":65.7,"v":10},{"p":"MnBY5","s":"D","d":70.3,"v":195},{"p":"MnBY5","s":"D","d":75.9,"v":206},{"p":"MnBY5","s":"D","d":78.6,"v":79}
]
},
"bounds":"full",
"spacing":-40,
"resolve":{"scale":{"color":"independent","fill":"independent"},"legend":{"color":"independent","fill":"independent"}},
"vconcat":[
{"hconcat":[
 {"width":3,"height":97.5,"data":{"values":[]},"mark":{"type":"point","opacity":0}},
 {"width":494,"height":1,"data":{"values":[{"metal":"Fe"}]},
  "encoding":{"x":{"datum":0.5,"type":"quantitative","scale":{"domain":[0,1],"nice":false,"zero":false},"axis":{"orient":"bottom","offset":0,"values":[0,1],"labels":false,"title":null,"tickSize":23,"domainColor":"black","tickColor":"black","domainWidth":1.3,"tickWidth":1.3}},"text":{"field":"metal"}},
  "layer":[{"mark":{"type":"text","fontSize":44,"baseline":"middle","fill":"white","stroke":"white","strokeWidth":12}},{"mark":{"type":"text","fontSize":44,"baseline":"middle","color":"black"}}]},
 {"width":65,"height":1,"data":{"values":[]},"mark":{"type":"point","opacity":0}},
 {"width":494,"height":1,"data":{"values":[{"metal":"Mn"}]},
  "encoding":{"x":{"datum":0.5,"type":"quantitative","scale":{"domain":[0,1],"nice":false,"zero":false},"axis":{"orient":"bottom","offset":0,"values":[0,1],"labels":false,"title":null,"tickSize":23,"domainColor":"black","tickColor":"black","domainWidth":1.3,"tickWidth":1.3}},"text":{"field":"metal"}},
  "layer":[{"mark":{"type":"text","fontSize":44,"baseline":"middle","fill":"white","stroke":"white","strokeWidth":8}},{"mark":{"type":"text","fontSize":44,"baseline":"middle","color":"black"}}]}
],"spacing":0,"bounds":"flush"},

{"hconcat":[
{"width":15,"height":1,"data":{"values":[]},"mark":{"type":"point","opacity":0}},
{"width":154,"height":397,"title":{"text":"LL3A","dx":-12},"layer":[
 {"data":{"name":"zones"},"transform":[{"filter":"datum.st == 'LL3A'"}],"mark":"rect","encoding":{"y":{"field":"top","type":"quantitative","scale":{"domain":[0,80],"reverse":true,"nice":false,"zero":false},"axis":{"values":[0,20,40,60,80],"format":"d","title":"Water depth (m)","titleX":-53.5,"titleY":143}},"y2":{"field":"bottom"},"color":{"field":"zone","type":"nominal","scale":{"domain":["Hypoxic","Sulfidic"],"range":["#e3e3e3","#a0a0a0"]},"legend":{"orient":"none","legendX":-6,"legendY":319,"title":null,"symbolType":"square","symbolSize":150,"symbolStrokeWidth":0,"symbolOffset":6,"labelOffset":10,"rowPadding":5}}}},
 {"data":{"name":"obs"},"transform":[{"filter":"datum.p == 'FeLL3A'"}],"encoding":{"x":{"field":"v","type":"quantitative","scale":{"domain":[0,1833],"nice":false,"zero":false},"axis":{"orient":"top","title":"nmol L⁻¹","values":[0,500,1000,1500],"labelExpr":"indexof([0,500,1500], datum.value) >= 0 ? format(datum.value, 'd') : ''"}},"y":{"field":"d","type":"quantitative","scale":{"domain":[0,80],"reverse":true,"nice":false,"zero":false},"axis":{"values":[0,20,40,60,80],"format":"d","title":"Water depth (m)","titleX":-53.5,"titleY":143}}},"layer":[
  {"mark":{"type":"point","shape":"diamond","filled":true,"size":100,"stroke":"#3a3a3a","strokeWidth":0.6,"opacity":1},"encoding":{"fill":{"field":"s","type":"nominal","scale":{"domain":["T","D","A"],"range":["#8b0000","#ffa500","#ffff00"]},"legend":null}}},
  {"mark":{"type":"line","color":"black","strokeWidth":1},"encoding":{"detail":{"field":"s"},"order":{"field":"d","type":"quantitative"}}}]}
]},
{"width":15,"height":1,"data":{"values":[]},"mark":{"type":"point","opacity":0}},
{"width":131,"height":397,"title":{"text":"GOF5"},"layer":[
 {"data":{"name":"zones"},"transform":[{"filter":"datum.st == 'GOF5'"}],"mark":"rect","encoding":{"y":{"field":"top","type":"quantitative","scale":{"domain":[0,80],"reverse":true,"nice":false,"zero":false},"axis":{"values":[0,20,40,60,80],"labels":false,"title":null}},"y2":{"field":"bottom"},"color":{"field":"zone","type":"nominal","scale":{"domain":["Hypoxic","Sulfidic"],"range":["#e3e3e3","#a0a0a0"]},"legend":null}}},
 {"data":{"name":"obs"},"transform":[{"filter":"datum.p == 'FeGOF5'"}],"encoding":{"x":{"field":"v","type":"quantitative","scale":{"domain":[0,327.5],"nice":false,"zero":false},"axis":{"orient":"top","title":"nmol L⁻¹","values":[0,50,100,150,200,250,300],"labelExpr":"indexof([0,150,300], datum.value) >= 0 ? format(datum.value, 'd') : ''"}},"y":{"field":"d","type":"quantitative","scale":{"domain":[0,80],"reverse":true,"nice":false,"zero":false},"axis":{"values":[0,20,40,60,80],"labels":false,"title":null}}},"layer":[
  {"mark":{"type":"point","shape":"diamond","filled":true,"size":100,"stroke":"#3a3a3a","strokeWidth":0.6,"opacity":1},"encoding":{"fill":{"field":"s","type":"nominal","scale":{"domain":["T","D","A"],"range":["#8b0000","#ffa500","#ffff00"]},"legend":null}}},
  {"mark":{"type":"line","color":"black","strokeWidth":1},"encoding":{"detail":{"field":"s"},"order":{"field":"d","type":"quantitative"}}}]}
]},
{"width":38,"height":1,"data":{"values":[]},"mark":{"type":"point","opacity":0}},
{"width":132,"height":397,"title":{"text":"JML"},"layer":[
 {"data":{"name":"zones"},"transform":[{"filter":"datum.st == 'JML'"}],"mark":"rect","encoding":{"y":{"field":"top","type":"quantitative","scale":{"domain":[0,80],"reverse":true,"nice":false,"zero":false},"axis":{"values":[0,20,40,60,80],"labels":false,"title":null}},"y2":{"field":"bottom"},"color":{"field":"zone","type":"nominal","scale":{"domain":["Hypoxic","Sulfidic"],"range":["#e3e3e3","#a0a0a0"]},"legend":null}}},
 {"data":{"name":"obs"},"transform":[{"filter":"datum.p == 'FeJML'"}],"encoding":{"x":{"field":"v","type":"quantitative","scale":{"domain":[0,1842],"nice":false,"zero":false},"axis":{"orient":"top","title":"nmol L⁻¹","values":[0,500,1000,1500],"labelExpr":"indexof([0,1000], datum.value) >= 0 ? format(datum.value, 'd') : ''"}},"y":{"field":"d","type":"quantitative","scale":{"domain":[0,80],"reverse":true,"nice":false,"zero":false},"axis":{"values":[0,20,40,60,80],"labels":false,"title":null}}},"layer":[
  {"mark":{"type":"point","shape":"diamond","filled":true,"size":100,"stroke":"#3a3a3a","strokeWidth":0.6,"opacity":1},"encoding":{"fill":{"field":"s","type":"nominal","scale":{"domain":["T","D","A"],"range":["#8b0000","#ffa500","#ffff00"]},"legend":null}}},
  {"mark":{"type":"line","color":"black","strokeWidth":1},"encoding":{"detail":{"field":"s"},"order":{"field":"d","type":"quantitative"}}}]}
]},
{"width":110,"height":445,"data":{"values":[]},"mark":{"type":"point","opacity":0}},
{"width":154,"height":398,"title":{"text":"LL3A","dx":-10},"layer":[
 {"data":{"name":"zones"},"transform":[{"filter":"datum.st == 'LL3A'"}],"mark":"rect","encoding":{"y":{"field":"top","type":"quantitative","scale":{"domain":[0,80],"reverse":true,"nice":false,"zero":false},"axis":{"values":[0,20,40,60,80],"format":"d","title":"Water depth (m)","titleX":-50,"titleY":142}},"y2":{"field":"bottom"},"color":{"field":"zone","type":"nominal","scale":{"domain":["Hypoxic","Sulfidic"],"range":["#e3e3e3","#a0a0a0"]},"legend":{"orient":"none","legendX":-6,"legendY":315,"title":null,"symbolType":"square","symbolSize":150,"symbolStrokeWidth":0,"symbolOffset":6,"labelOffset":10,"rowPadding":5}}}},
 {"data":{"name":"obs"},"transform":[{"filter":"datum.p == 'MnLL3A'"}],"encoding":{"x":{"field":"v","type":"quantitative","scale":{"domain":[0,18000],"nice":false,"zero":false},"axis":{"orient":"top","title":"nmol L⁻¹","values":[0,5000,10000,15000],"labelExpr":"indexof([0,10000], datum.value) >= 0 ? format(datum.value, ',d') : ''"}},"y":{"field":"d","type":"quantitative","scale":{"domain":[0,80],"reverse":true,"nice":false,"zero":false},"axis":{"values":[0,20,40,60,80],"format":"d","title":"Water depth (m)","titleX":-50,"titleY":142}}},"layer":[
  {"mark":{"type":"point","shape":"diamond","filled":true,"size":100,"stroke":"#3a3a3a","strokeWidth":0.6,"opacity":1},"encoding":{"fill":{"field":"s","type":"nominal","scale":{"domain":["T","D"],"range":["#8b0000","#ffa500"]},"legend":null}}},
  {"mark":{"type":"line","color":"black","strokeWidth":1},"encoding":{"detail":{"field":"s"},"order":{"field":"d","type":"quantitative"}}}]}
]},
{"width":16,"height":1,"data":{"values":[]},"mark":{"type":"point","opacity":0}},
{"width":131,"height":398,"title":{"text":"GOF5"},"layer":[
 {"data":{"name":"zones"},"transform":[{"filter":"datum.st == 'GOF5'"}],"mark":"rect","encoding":{"y":{"field":"top","type":"quantitative","scale":{"domain":[0,80],"reverse":true,"nice":false,"zero":false},"axis":{"values":[0,20,40,60,80],"labels":false,"title":null}},"y2":{"field":"bottom"},"color":{"field":"zone","type":"nominal","scale":{"domain":["Hypoxic","Sulfidic"],"range":["#e3e3e3","#a0a0a0"]},"legend":null}}},
 {"data":{"name":"obs"},"transform":[{"filter":"datum.p == 'MnGOF5'"}],"encoding":{"x":{"field":"v","type":"quantitative","scale":{"domain":[0,12885],"nice":false,"zero":false},"axis":{"orient":"top","title":"nmol L⁻¹","values":[0,2000,4000,6000,8000,10000,12000],"labelExpr":"indexof([0,6000], datum.value) >= 0 ? format(datum.value, 'd') : ''"}},"y":{"field":"d","type":"quantitative","scale":{"domain":[0,80],"reverse":true,"nice":false,"zero":false},"axis":{"values":[0,20,40,60,80],"labels":false,"title":null}}},"layer":[
  {"mark":{"type":"point","shape":"diamond","filled":true,"size":100,"stroke":"#3a3a3a","strokeWidth":0.6,"opacity":1},"encoding":{"fill":{"field":"s","type":"nominal","scale":{"domain":["T","D"],"range":["#8b0000","#ffa500"]},"legend":null}}},
  {"mark":{"type":"line","color":"black","strokeWidth":1},"encoding":{"detail":{"field":"s"},"order":{"field":"d","type":"quantitative"}}}]}
]},
{"width":37,"height":1,"data":{"values":[]},"mark":{"type":"point","opacity":0}},
{"width":132,"height":398,"title":{"text":"JML"},"resolve":{"scale":{"y":"independent"},"axis":{"y":"independent"}},"layer":[
 {"data":{"name":"zones"},"transform":[{"filter":"datum.st == 'JML'"}],"mark":"rect","encoding":{"y":{"field":"top","type":"quantitative","scale":{"domain":[0,80],"reverse":true,"nice":false,"zero":false},"axis":{"orient":"right","offset":0,"labels":false,"ticks":false,"domain":false,"title":"Gulf of Finland","titleFontSize":25,"titleAngle":90,"titleBaseline":"bottom","titleX":44,"titleY":183}},"y2":{"field":"bottom"},"color":{"field":"zone","type":"nominal","scale":{"domain":["Hypoxic","Sulfidic"],"range":["#e3e3e3","#a0a0a0"]},"legend":null}}},
 {"data":{"name":"obs"},"transform":[{"filter":"datum.p == 'MnJML'"}],"encoding":{"x":{"field":"v","type":"quantitative","scale":{"domain":[0,14400],"nice":false,"zero":false},"axis":{"orient":"top","title":"nmol L⁻¹","values":[0,2000,4000,6000,8000,10000,12000,14000],"labelExpr":"datum.value == 6000 ? '6000' : indexof([0,14000], datum.value) >= 0 ? format(datum.value, ',d') : ''"}},"y":{"field":"d","type":"quantitative","scale":{"domain":[0,80],"reverse":true,"nice":false,"zero":false},"axis":{"values":[0,20,40,60,80],"labels":false,"title":null}}},"layer":[
  {"mark":{"type":"point","shape":"diamond","filled":true,"size":100,"stroke":"#3a3a3a","strokeWidth":0.6,"opacity":1},"encoding":{"fill":{"field":"s","type":"nominal","scale":{"domain":["T","D"],"range":["#8b0000","#ffa500"]},"legend":null}}},
  {"mark":{"type":"line","color":"black","strokeWidth":1},"encoding":{"detail":{"field":"s"},"order":{"field":"d","type":"quantitative"}}}]}
]}
],"spacing":0,"bounds":"flush","resolve":{"scale":{"color":"independent","fill":"independent"},"legend":{"color":"independent","fill":"independent"}}},

{"hconcat":[
{"width":14,"height":1,"data":{"values":[]},"mark":{"type":"point","opacity":0}},
{"width":134,"height":319,"title":{"text":"LF1","dx":-8},"layer":[
 {"data":{"name":"zones"},"transform":[{"filter":"datum.st == 'LF1'"}],"mark":"rect","encoding":{"y":{"field":"top","type":"quantitative","scale":{"domain":[0,200],"reverse":true,"nice":false,"zero":false},"axis":{"values":[0,50,100,150,200],"format":"d","title":"Water depth (m)","titleX":-52.5,"titleY":137}},"y2":{"field":"bottom"},"color":{"field":"zone","type":"nominal","scale":{"domain":["Hypoxic","Sulfidic"],"range":["#e3e3e3","#a0a0a0"]},"legend":null}}},
 {"data":{"name":"obs"},"transform":[{"filter":"datum.p == 'FeLF1'"}],"encoding":{"x":{"field":"v","type":"quantitative","scale":{"domain":[0,83.5],"nice":false,"zero":false},"axis":{"orient":"top","title":"nmol L⁻¹","values":[0,20,40,60,80],"labelExpr":"indexof([0,40,80], datum.value) >= 0 ? format(datum.value, 'd') : ''"}},"y":{"field":"d","type":"quantitative","scale":{"domain":[0,200],"reverse":true,"nice":false,"zero":false},"axis":{"values":[0,50,100,150,200],"format":"d","title":"Water depth (m)","titleX":-52.5,"titleY":137}}},"layer":[
  {"mark":{"type":"point","shape":"diamond","filled":true,"size":100,"stroke":"#3a3a3a","strokeWidth":0.6,"opacity":1},"encoding":{"fill":{"field":"s","type":"nominal","scale":{"domain":["T","D","A"],"range":["#8b0000","#ffa500","#ffff00"]},"legend":{"orient":"none","legendX":-6,"legendY":162,"title":null,"symbolType":"diamond","symbolSize":120,"symbolStrokeColor":"#3a3a3a","symbolStrokeWidth":0.6,"symbolOffset":6,"labelOffset":8,"rowPadding":4.5,"labelExpr":"datum.value == 'T' ? 'Total Fe' : datum.value == 'D' ? ['Dissolved Fe', '(<0.2 µm)'] : ['Aqueous Fe', '(<0.02 µm)']"}}}},
  {"mark":{"type":"line","color":"black","strokeWidth":1},"encoding":{"detail":{"field":"s"},"order":{"field":"d","type":"quantitative"}}}]}
]},
{"width":35,"height":1,"data":{"values":[]},"mark":{"type":"point","opacity":0}},
{"width":131,"height":319,"title":{"text":"311","dx":5},"layer":[
 {"data":{"name":"zones"},"transform":[{"filter":"datum.st == '311'"}],"mark":"rect","encoding":{"y":{"field":"top","type":"quantitative","scale":{"domain":[0,200],"reverse":true,"nice":false,"zero":false},"axis":{"values":[0,50,100,150,200],"labels":false,"title":null}},"y2":{"field":"bottom"},"color":{"field":"zone","type":"nominal","scale":{"domain":["Hypoxic","Sulfidic"],"range":["#e3e3e3","#a0a0a0"]},"legend":null}}},
 {"data":{"name":"obs"},"transform":[{"filter":"datum.p == 'Fe311'"}],"encoding":{"x":{"field":"v","type":"quantitative","scale":{"domain":[0,637],"nice":false,"zero":false},"axis":{"orient":"top","title":"nmol L⁻¹","values":[0,100,200,300,400,500,600],"labelExpr":"indexof([0,200,500], datum.value) >= 0 ? format(datum.value, 'd') : ''"}},"y":{"field":"d","type":"quantitative","scale":{"domain":[0,200],"reverse":true,"nice":false,"zero":false},"axis":{"values":[0,50,100,150,200],"labels":false,"title":null}}},"layer":[
  {"mark":{"type":"point","shape":"diamond","filled":true,"size":100,"stroke":"#3a3a3a","strokeWidth":0.6,"opacity":1},"encoding":{"fill":{"field":"s","type":"nominal","scale":{"domain":["T","D","A"],"range":["#8b0000","#ffa500","#ffff00"]},"legend":null}}},
  {"mark":{"type":"line","color":"black","strokeWidth":1},"encoding":{"detail":{"field":"s"},"order":{"field":"d","type":"quantitative"}}}]}
]},
{"width":39,"height":1,"data":{"values":[]},"mark":{"type":"point","opacity":0}},
{"width":131,"height":319,"title":{"text":"BY15","dx":-6},"layer":[
 {"data":{"name":"zones"},"transform":[{"filter":"datum.st == 'BY15'"}],"mark":"rect","encoding":{"y":{"field":"top","type":"quantitative","scale":{"domain":[0,200],"reverse":true,"nice":false,"zero":false},"axis":{"values":[0,50,100,150,200],"labels":false,"title":null}},"y2":{"field":"bottom"},"color":{"field":"zone","type":"nominal","scale":{"domain":["Hypoxic","Sulfidic"],"range":["#e3e3e3","#a0a0a0"]},"legend":null}}},
 {"data":{"name":"obs"},"transform":[{"filter":"datum.p == 'FeBY15'"}],"encoding":{"x":{"field":"v","type":"quantitative","scale":{"domain":[0,109.2],"nice":false,"zero":false},"axis":{"orient":"top","title":"nmol L⁻¹","values":[0,20,40,60,80,100],"labelExpr":"indexof([0,40,80], datum.value) >= 0 ? format(datum.value, 'd') : ''"}},"y":{"field":"d","type":"quantitative","scale":{"domain":[0,200],"reverse":true,"nice":false,"zero":false},"axis":{"values":[0,50,100,150,200],"labels":false,"title":null}}},"layer":[
  {"mark":{"type":"point","shape":"diamond","filled":true,"size":100,"stroke":"#3a3a3a","strokeWidth":0.6,"opacity":1},"encoding":{"fill":{"field":"s","type":"nominal","scale":{"domain":["T","D","A"],"range":["#8b0000","#ffa500","#ffff00"]},"legend":null}}},
  {"mark":{"type":"line","color":"black","strokeWidth":1},"encoding":{"detail":{"field":"s"},"order":{"field":"d","type":"quantitative"}}}]}
]},
{"width":110,"height":422,"data":{"values":[]},"mark":{"type":"point","opacity":0}},
{"width":134,"height":319,"title":{"text":"LF1","dx":-2},"layer":[
 {"data":{"name":"zones"},"transform":[{"filter":"datum.st == 'LF1'"}],"mark":"rect","encoding":{"y":{"field":"top","type":"quantitative","scale":{"domain":[0,200],"reverse":true,"nice":false,"zero":false},"axis":{"values":[0,50,100,150,200],"format":"d","title":"Water depth (m)","titleX":-49,"titleY":134}},"y2":{"field":"bottom"},"color":{"field":"zone","type":"nominal","scale":{"domain":["Hypoxic","Sulfidic"],"range":["#e3e3e3","#a0a0a0"]},"legend":null}}},
 {"data":{"name":"obs"},"transform":[{"filter":"datum.p == 'MnLF1'"}],"encoding":{"x":{"field":"v","type":"quantitative","scale":{"domain":[0,207.2],"nice":false,"zero":false},"axis":{"orient":"top","title":"nmol L⁻¹","values":[0,50,100,150,200],"labelExpr":"indexof([0,100,200], datum.value) >= 0 ? format(datum.value, 'd') : ''"}},"y":{"field":"d","type":"quantitative","scale":{"domain":[0,200],"reverse":true,"nice":false,"zero":false},"axis":{"values":[0,50,100,150,200],"format":"d","title":"Water depth (m)","titleX":-49,"titleY":134}}},"layer":[
  {"mark":{"type":"point","shape":"diamond","filled":true,"size":100,"stroke":"#3a3a3a","strokeWidth":0.6,"opacity":1},"encoding":{"fill":{"field":"s","type":"nominal","scale":{"domain":["T","D"],"range":["#8b0000","#ffa500"]},"legend":{"orient":"none","legendX":-5,"legendY":157,"title":null,"symbolType":"diamond","symbolSize":120,"symbolStrokeColor":"#3a3a3a","symbolStrokeWidth":0.6,"symbolOffset":6,"labelOffset":8,"rowPadding":4.5,"labelExpr":"datum.value == 'T' ? 'Total Mn' : ['Dissolved Mn', '(<0.2 µm)']"}}}},
  {"mark":{"type":"line","color":"black","strokeWidth":1},"encoding":{"detail":{"field":"s"},"order":{"field":"d","type":"quantitative"}}}]}
]},
{"width":35,"height":1,"data":{"values":[]},"mark":{"type":"point","opacity":0}},
{"width":132,"height":319,"title":{"text":"311"},"layer":[
 {"data":{"name":"zones"},"transform":[{"filter":"datum.st == '311'"}],"mark":"rect","encoding":{"y":{"field":"top","type":"quantitative","scale":{"domain":[0,200],"reverse":true,"nice":false,"zero":false},"axis":{"values":[0,50,100,150,200],"labels":false,"title":null}},"y2":{"field":"bottom"},"color":{"field":"zone","type":"nominal","scale":{"domain":["Hypoxic","Sulfidic"],"range":["#e3e3e3","#a0a0a0"]},"legend":null}}},
 {"data":{"name":"obs"},"transform":[{"filter":"datum.p == 'Mn311'"}],"encoding":{"x":{"field":"v","type":"quantitative","scale":{"domain":[0,246.3],"nice":false,"zero":false},"axis":{"orient":"top","title":"nmol L⁻¹","values":[0,50,100,150,200,250],"labelExpr":"indexof([0,100,200], datum.value) >= 0 ? format(datum.value, 'd') : ''"}},"y":{"field":"d","type":"quantitative","scale":{"domain":[0,200],"reverse":true,"nice":false,"zero":false},"axis":{"values":[0,50,100,150,200],"labels":false,"title":null}}},"layer":[
  {"mark":{"type":"point","shape":"diamond","filled":true,"size":100,"stroke":"#3a3a3a","strokeWidth":0.6,"opacity":1},"encoding":{"fill":{"field":"s","type":"nominal","scale":{"domain":["T","D"],"range":["#8b0000","#ffa500"]},"legend":null}}},
  {"mark":{"type":"line","color":"black","strokeWidth":1},"encoding":{"detail":{"field":"s"},"order":{"field":"d","type":"quantitative"}}}]}
]},
{"width":38,"height":1,"data":{"values":[]},"mark":{"type":"point","opacity":0}},
{"width":131,"height":319,"title":{"text":"BY15"},"resolve":{"scale":{"y":"independent"},"axis":{"y":"independent"}},"layer":[
 {"data":{"name":"zones"},"transform":[{"filter":"datum.st == 'BY15'"}],"mark":"rect","encoding":{"y":{"field":"top","type":"quantitative","scale":{"domain":[0,200],"reverse":true,"nice":false,"zero":false},"axis":{"orient":"right","offset":0,"labels":false,"ticks":false,"domain":false,"title":"Gotland area","titleFontSize":25,"titleAngle":90,"titleBaseline":"bottom","titleX":45,"titleY":189}},"y2":{"field":"bottom"},"color":{"field":"zone","type":"nominal","scale":{"domain":["Hypoxic","Sulfidic"],"range":["#e3e3e3","#a0a0a0"]},"legend":null}}},
 {"data":{"name":"obs"},"transform":[{"filter":"datum.p == 'MnBY15'"}],"encoding":{"x":{"field":"v","type":"quantitative","scale":{"domain":[0,2026],"nice":false,"zero":false},"axis":{"orient":"top","title":"nmol L⁻¹","values":[0,500,1000,1500,2000],"labelExpr":"indexof([0,1000,2000], datum.value) >= 0 ? format(datum.value, 'd') : ''"}},"y":{"field":"d","type":"quantitative","scale":{"domain":[0,200],"reverse":true,"nice":false,"zero":false},"axis":{"values":[0,50,100,150,200],"labels":false,"title":null}}},"layer":[
  {"mark":{"type":"point","shape":"diamond","filled":true,"size":100,"stroke":"#3a3a3a","strokeWidth":0.6,"opacity":1},"encoding":{"fill":{"field":"s","type":"nominal","scale":{"domain":["T","D"],"range":["#8b0000","#ffa500"]},"legend":null}}},
  {"mark":{"type":"line","color":"black","strokeWidth":1},"encoding":{"detail":{"field":"s"},"order":{"field":"d","type":"quantitative"}}}]}
]}
],"spacing":0,"bounds":"flush","resolve":{"scale":{"color":"independent","fill":"independent"},"legend":{"color":"independent","fill":"independent"}}},

{"hconcat":[
{"width":131,"height":340,"title":{"text":"LL19","offset":10},"layer":[
 {"data":{"name":"zones"},"transform":[{"filter":"datum.st == 'LL19'"}],"mark":"rect","encoding":{"y":{"field":"top","type":"quantitative","scale":{"domain":[0,150],"reverse":true,"nice":false,"zero":false},"axis":{"values":[0,50,100,150],"format":"d","title":"Water depth (m)","titleX":-39,"titleY":130}},"y2":{"field":"bottom"},"color":{"field":"zone","type":"nominal","scale":{"domain":["Hypoxic","Sulfidic"],"range":["#e3e3e3","#a0a0a0"]},"legend":null}}},
 {"data":{"name":"obs"},"transform":[{"filter":"datum.p == 'FeLL19'"}],"encoding":{"x":{"field":"v","type":"quantitative","scale":{"domain":[0,455.7],"nice":false,"zero":false},"axis":{"orient":"top","title":"nmol L⁻¹","titlePadding":0,"values":[0,100,200,300,400],"labelExpr":"indexof([0,200,400], datum.value) >= 0 ? format(datum.value, 'd') : ''"}},"y":{"field":"d","type":"quantitative","scale":{"domain":[0,150],"reverse":true,"nice":false,"zero":false},"axis":{"values":[0,50,100,150],"format":"d","title":"Water depth (m)","titleX":-39,"titleY":130}}},"layer":[
  {"mark":{"type":"point","shape":"diamond","filled":true,"size":100,"stroke":"#3a3a3a","strokeWidth":0.6,"opacity":1},"encoding":{"fill":{"field":"s","type":"nominal","scale":{"domain":["T","D","A"],"range":["#8b0000","#ffa500","#ffff00"]},"legend":null}}},
  {"mark":{"type":"line","color":"black","strokeWidth":1},"encoding":{"detail":{"field":"s"},"order":{"field":"d","type":"quantitative"}}}]}
]},
{"width":59,"height":1,"data":{"values":[]},"mark":{"type":"point","opacity":0}},
{"width":134,"height":373,"title":{"text":"BY2","offset":10},"layer":[
 {"data":{"name":"obs"},"transform":[{"filter":"datum.p == 'FeBY2'"}],"encoding":{"x":{"field":"v","type":"quantitative","scale":{"domain":[0,159.5],"nice":false,"zero":false},"axis":{"orient":"top","title":"nmol L⁻¹","titlePadding":0,"values":[0,50,100,150],"labelExpr":"indexof([0,50,150], datum.value) >= 0 ? format(datum.value, 'd') : ''"}},"y":{"field":"d","type":"quantitative","scale":{"domain":[0,80],"reverse":true,"nice":false,"zero":false},"axis":{"values":[0,20,40,60,80],"format":"d","title":null}}},"layer":[
  {"mark":{"type":"point","shape":"diamond","filled":true,"size":100,"stroke":"#3a3a3a","strokeWidth":0.6,"opacity":1},"encoding":{"fill":{"field":"s","type":"nominal","scale":{"domain":["T","D","A"],"range":["#8b0000","#ffa500","#ffff00"]},"legend":null}}},
  {"mark":{"type":"line","color":"black","strokeWidth":1},"encoding":{"detail":{"field":"s"},"order":{"field":"d","type":"quantitative"}}}]}
]},
{"width":35,"height":1,"data":{"values":[]},"mark":{"type":"point","opacity":0}},
{"width":129,"height":373,"title":{"text":"BY5","dx":3,"offset":10},"layer":[
 {"data":{"name":"zones"},"transform":[{"filter":"datum.st == 'BY5'"}],"mark":"rect","encoding":{"y":{"field":"top","type":"quantitative","scale":{"domain":[0,80],"reverse":true,"nice":false,"zero":false},"axis":{"values":[0,20,40,60,80],"labels":false,"title":null}},"y2":{"field":"bottom"},"color":{"field":"zone","type":"nominal","scale":{"domain":["Hypoxic","Sulfidic"],"range":["#e3e3e3","#a0a0a0"]},"legend":null}}},
 {"data":{"name":"obs"},"transform":[{"filter":"datum.p == 'FeBY5'"}],"encoding":{"x":{"field":"v","type":"quantitative","scale":{"domain":[0,156.5],"nice":false,"zero":false},"axis":{"orient":"top","title":"nmol L⁻¹","titlePadding":0,"values":[0,50,100,150],"labelExpr":"indexof([0,50,150], datum.value) >= 0 ? format(datum.value, 'd') : ''"}},"y":{"field":"d","type":"quantitative","scale":{"domain":[0,80],"reverse":true,"nice":false,"zero":false},"axis":{"values":[0,20,40,60,80],"labels":false,"title":null}}},"layer":[
  {"mark":{"type":"point","shape":"diamond","filled":true,"size":100,"stroke":"#3a3a3a","strokeWidth":0.6,"opacity":1},"encoding":{"fill":{"field":"s","type":"nominal","scale":{"domain":["T","D","A"],"range":["#8b0000","#ffa500","#ffff00"]},"legend":null}}},
  {"mark":{"type":"line","color":"black","strokeWidth":1},"encoding":{"detail":{"field":"s"},"order":{"field":"d","type":"quantitative"}}}]}
]},
{"width":88,"height":1,"data":{"values":[]},"mark":{"type":"point","opacity":0}},
{"width":131,"height":342,"title":{"text":"LL19","dx":1,"offset":10},"layer":[
 {"data":{"name":"zones"},"transform":[{"filter":"datum.st == 'LL19'"}],"mark":"rect","encoding":{"y":{"field":"top","type":"quantitative","scale":{"domain":[0,150],"reverse":true,"nice":false,"zero":false},"axis":{"values":[0,50,100,150],"format":"d","title":"Water depth (m)","titleX":-43,"titleY":130}},"y2":{"field":"bottom"},"color":{"field":"zone","type":"nominal","scale":{"domain":["Hypoxic","Sulfidic"],"range":["#e3e3e3","#a0a0a0"]},"legend":null}}},
 {"data":{"name":"obs"},"transform":[{"filter":"datum.p == 'MnLL19'"}],"encoding":{"x":{"field":"v","type":"quantitative","scale":{"domain":[0,3767],"nice":false,"zero":false},"axis":{"orient":"top","title":"nmol L⁻¹","titlePadding":0,"values":[0,1000,2000,3000],"labelExpr":"indexof([0,2000], datum.value) >= 0 ? format(datum.value, 'd') : ''"}},"y":{"field":"d","type":"quantitative","scale":{"domain":[0,150],"reverse":true,"nice":false,"zero":false},"axis":{"values":[0,50,100,150],"format":"d","title":"Water depth (m)","titleX":-43,"titleY":130}}},"layer":[
  {"mark":{"type":"point","shape":"diamond","filled":true,"size":100,"stroke":"#3a3a3a","strokeWidth":0.6,"opacity":1},"encoding":{"fill":{"field":"s","type":"nominal","scale":{"domain":["T","D"],"range":["#8b0000","#ffa500"]},"legend":null}}},
  {"mark":{"type":"line","color":"black","strokeWidth":1},"encoding":{"detail":{"field":"s"},"order":{"field":"d","type":"quantitative"}}}]}
]},
{"width":55,"height":1,"data":{"values":[]},"mark":{"type":"point","opacity":0}},
{"width":134,"height":374,"title":{"text":"BY2","offset":10},"layer":[
 {"data":{"name":"obs"},"transform":[{"filter":"datum.p == 'MnBY2'"}],"encoding":{"x":{"field":"v","type":"quantitative","scale":{"domain":[0,97.2],"nice":false,"zero":false},"axis":{"orient":"top","title":"nmol L⁻¹","titlePadding":0,"values":[0,20,40,60,80],"labelExpr":"indexof([0,40,80], datum.value) >= 0 ? format(datum.value, 'd') : ''"}},"y":{"field":"d","type":"quantitative","scale":{"domain":[0,80],"reverse":true,"nice":false,"zero":false},"axis":{"values":[0,20,40,60,80],"format":"d","title":null}}},"layer":[
  {"mark":{"type":"point","shape":"diamond","filled":true,"size":100,"stroke":"#3a3a3a","strokeWidth":0.6,"opacity":1},"encoding":{"fill":{"field":"s","type":"nominal","scale":{"domain":["T","D"],"range":["#8b0000","#ffa500"]},"legend":null}}},
  {"mark":{"type":"line","color":"black","strokeWidth":1},"encoding":{"detail":{"field":"s"},"order":{"field":"d","type":"quantitative"}}}]}
]},
{"width":35,"height":1,"data":{"values":[]},"mark":{"type":"point","opacity":0}},
{"width":131,"height":374,"title":{"text":"BY5","dx":2,"offset":10},"resolve":{"scale":{"y":"independent"},"axis":{"y":"independent"}},"layer":[
 {"data":{"name":"zones"},"transform":[{"filter":"datum.st == 'BY5'"}],"mark":"rect","encoding":{"y":{"field":"top","type":"quantitative","scale":{"domain":[0,80],"reverse":true,"nice":false,"zero":false},"axis":{"orient":"right","offset":0,"labels":false,"ticks":false,"domain":false,"title":"LL19 & Southern basins","titleFontSize":25,"titleAngle":90,"titleBaseline":"bottom","titleX":47,"titleY":220}},"y2":{"field":"bottom"},"color":{"field":"zone","type":"nominal","scale":{"domain":["Hypoxic","Sulfidic"],"range":["#e3e3e3","#a0a0a0"]},"legend":null}}},
 {"data":{"name":"obs"},"transform":[{"filter":"datum.p == 'MnBY5'"}],"encoding":{"x":{"field":"v","type":"quantitative","scale":{"domain":[0,2074],"nice":false,"zero":false},"axis":{"orient":"top","title":"nmol L⁻¹","titlePadding":0,"values":[0,500,1000,1500,2000],"labelExpr":"indexof([0,1000,2000], datum.value) >= 0 ? format(datum.value, 'd') : ''"}},"y":{"field":"d","type":"quantitative","scale":{"domain":[0,80],"reverse":true,"nice":false,"zero":false},"axis":{"values":[0,20,40,60,80],"labels":false,"title":null}}},"layer":[
  {"mark":{"type":"point","shape":"diamond","filled":true,"size":100,"stroke":"#3a3a3a","strokeWidth":0.6,"opacity":1},"encoding":{"fill":{"field":"s","type":"nominal","scale":{"domain":["T","D"],"range":["#8b0000","#ffa500"]},"legend":null}}},
  {"mark":{"type":"line","color":"black","strokeWidth":1},"encoding":{"detail":{"field":"s"},"order":{"field":"d","type":"quantitative"}}}]}
]}
],"spacing":0,"bounds":"flush","resolve":{"scale":{"color":"independent","fill":"independent"},"legend":{"color":"independent","fill":"independent"}}}
]
}
